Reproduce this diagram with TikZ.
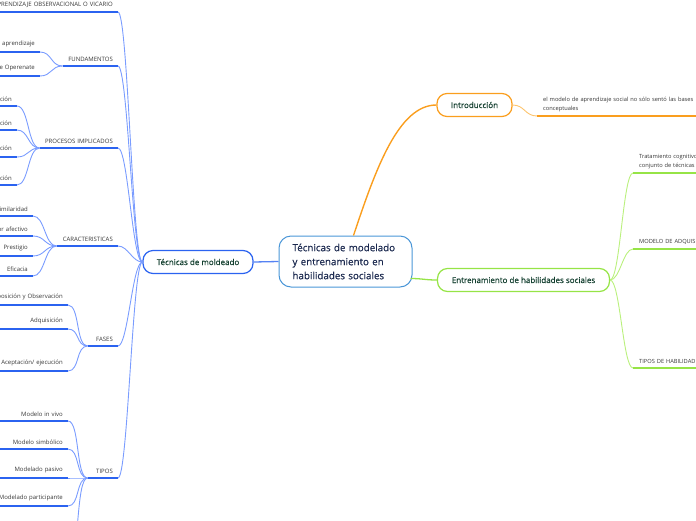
\documentclass[tikz,border=0pt]{standalone}
\usepackage{fontspec}
\setmainfont{Open Sans}
\newfontfamily\heavyfont[FakeBold=0.5]{Open Sans}
\newfontfamily\mediumfont[FakeBold=0.25]{Open Sans}
\usetikzlibrary{positioning}

\definecolor{bluedark}{RGB}{43,99,240}
\definecolor{bluelight}{RGB}{122,156,255}
\definecolor{blueframe}{RGB}{74,150,215}
\definecolor{orangemain}{RGB}{250,158,30}
\definecolor{orangelight}{RGB}{252,196,110}
\definecolor{greenmain}{RGB}{150,228,70}
\definecolor{greenlight}{RGB}{186,240,125}
\definecolor{leafgray}{RGB}{55,55,55}
\definecolor{topicgreen}{RGB}{18,62,46}
\definecolor{rootnavy}{RGB}{26,40,78}

\begin{document}
\begin{tikzpicture}[
    x=1pt, y=-1pt,
    font=\fontsize{6}{9.5}\selectfont,
    root/.style={
        draw=blueframe,
        rectangle,
        rounded corners=12pt,
        line width=1pt,
        minimum width=133pt,
        minimum height=51pt,
        text width=106pt,
        align=left,
        text=rootnavy,
        font=\heavyfont\fontsize{9.8}{14}\selectfont
    },
    main/.style={
        rectangle,
        rounded corners=10pt,
        line width=1.2pt,
        minimum height=23pt,
        inner sep=0pt,
        text=topicgreen,
        font=\mediumfont\fontsize{8}{10}\selectfont
    },
    topic/.style={
        inner xsep=5pt,
        inner ysep=4.5pt,
        text width=#1,
        align=right,
        anchor=south east,
        text=leafgray
    },
    rtopic/.style={
        inner xsep=6pt,
        inner ysep=4pt,
        text width=#1,
        align=left,
        anchor=south west,
        text=leafgray,
        font=\fontsize{5.7}{9.2}\selectfont
    },
    bline/.style={draw=bluedark, line width=2pt},
    btwig/.style={draw=bluelight, line width=0.9pt},
    oline/.style={draw=orangemain, line width=2pt},
    otwig/.style={draw=orangelight, line width=0.9pt},
    gline/.style={draw=greenmain, line width=2pt},
    gtwig/.style={draw=greenlight, line width=0.9pt}
]
\useasboundingbox (0,0) rectangle (696,520);
\clip (0,0) rectangle (696,520);

% ============================================================
% Root and first level
% ============================================================

\node[root] (center) at (345.5,261.5)
    {Técnicas de modelado\\y entrenamiento en\\habilidades sociales};

\node[main, draw=bluedark, minimum width=110pt] (mold) at (198,262)
    {Técnicas de moldeado};
\node[main, draw=orangemain, minimum width=75pt] (intro) at (474.5,105)
    {Introducción};
\node[main, draw=greenmain, minimum width=172pt] (entr) at (523.5,280)
    {Entrenamiento de habilidades sociales};

\draw[bline, line width=1.3pt, draw=bluedark!80] (center.west) -- (mold.east);
\draw[draw=orangemain, line width=1.4pt]
    ([xshift=8pt]center.north) .. controls +(22,-66) and +(-38,0) .. (intro.west);
\draw[draw=greenmain, line width=1.3pt]
    ([xshift=-2pt,yshift=-17pt]center.east) .. controls +(12,0) and +(-12,0) .. (entr.west);

% ============================================================
% Left: Técnicas de moldeado
% ============================================================

\node[topic=190pt] (vic)  at (118,12)  {APRENDIZAJE OBSERVACIONAL O VICARIO};
\node[topic=45pt]  (fund) at (118,66)  {FUNDAMENTOS};
\node[topic=68pt]  (proc) at (118,148) {PROCESOS IMPLICADOS};
\node[topic=51pt]  (car)  at (118,246) {CARACTERISTICAS};
\node[topic=20pt]  (fas)  at (118,346) {FASES};
\node[topic=20pt]  (tip)  at (118,478) {TIPOS};

\node[topic=110pt] (fa) at (40,52) {Teoría del aprendizaje};
\node[topic=110pt] (fb) at (40,76) {Condicionamiento de Operenate};

\node[topic=80pt] (pa) at (17,106) {Atención};
\node[topic=80pt] (pb) at (17,130) {Retención};
\node[topic=80pt] (pc) at (17,157) {Reproducción};
\node[topic=80pt] (pd) at (17,185) {Motivación};

\node[topic=80pt] (ca) at (33,216) {Similaridad};
\node[topic=80pt] (cb) at (33,236) {Valor afectivo};
\node[topic=80pt] (cc) at (33,256) {Prestigio};
\node[topic=80pt] (cd) at (33,276) {Eficacia};

\node[topic=110pt] (sa) at (68,305) {Exposición y Observación};
\node[topic=110pt] (sb) at (68,329) {Adquisición};
\node[topic=110pt] (sc) at (68,371) {Aceptación/ ejecución};

\node[topic=110pt] (ta) at (68,421) {Modelo in vivo};
\node[topic=110pt] (tb) at (68,449) {Modelo simbólico};
\node[topic=110pt] (tc) at (68,478) {Modelado pasivo};
\node[topic=110pt] (td) at (68,506) {Modelado participante};
\coordinate (te) at (68,562);

\foreach \t in {vic,fund,proc,car,fas,tip}
    \draw[btwig] (mold.west) .. controls +(-10,0) and +(10,0) .. (\t.south east);

\foreach \p/\c in {fund/fa,fund/fb,proc/pa,proc/pb,proc/pc,proc/pd,
                   car/ca,car/cb,car/cc,car/cd,fas/sa,fas/sb,fas/sc,
                   tip/ta,tip/tb,tip/tc,tip/td}
    \draw[btwig] (\p.south west) .. controls +(-12,0) and +(12,0) .. (\c.south east);
\draw[btwig] (tip.south west) .. controls +(-12,0) and +(12,0) .. (te);

\foreach \t in {vic,fund,proc,car,fas,tip,fa,fb,pa,pb,pc,pd,
                ca,cb,cc,cd,sa,sb,sc,ta,tb,tc,td}
    \draw[bline] (\t.south west) -- (\t.south east);

% ============================================================
% Right: Introducción and Entrenamiento
% ============================================================

\node[rtopic=200pt] (itext) at (537,116)
    {el modelo de aprendizaje social no sólo sentó las bases\\conceptuales};
\draw[otwig] (intro.east) .. controls +(12,0) and +(-12,0) .. (itext.south west);
\draw[oline] (itext.south west) -- (itext.south east);

\node[rtopic=150pt] (trat) at (633,173) {Tratamiento cognitivo\\conjunto de técnicas};
\node[rtopic=150pt] (adq)  at (633,249) {MODELO DE ADQUISICIÓN};
\node[rtopic=150pt] (hab)  at (633,368) {TIPOS DE HABILIDADES};

\foreach \t in {trat,adq,hab} {
    \draw[gtwig] (entr.east) .. controls +(10,0) and +(-10,0) .. (\t.south west);
    \draw[gline] (\t.south west) -- (\t.south east);
}

\end{tikzpicture}
\end{document}
